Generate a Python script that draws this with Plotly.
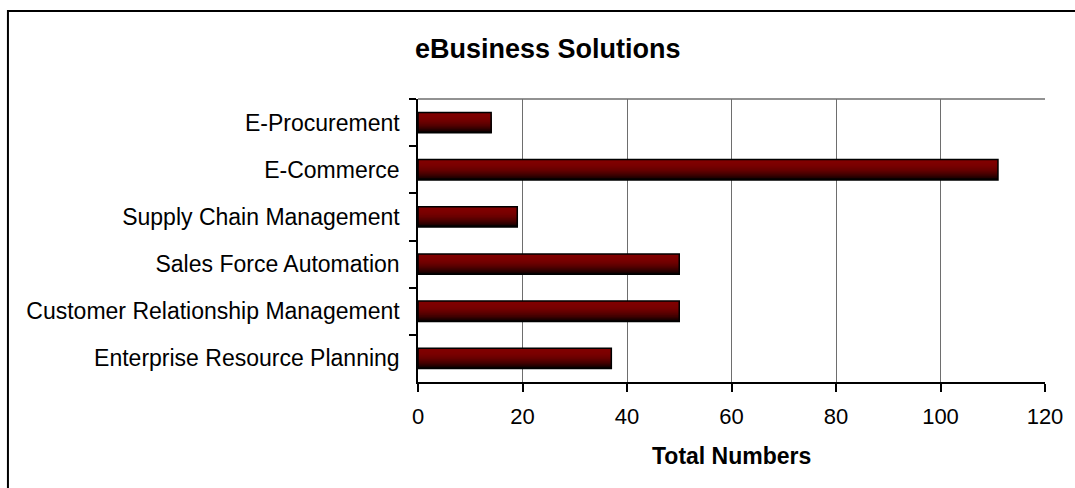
import plotly.graph_objects as go

# Survey totals per eBusiness solution (top to bottom as shown)
categories = [
    "E-Procurement",
    "E-Commerce",
    "Supply Chain Management",
    "Sales Force Automation",
    "Customer Relationship Management",
    "Enterprise Resource Planning",
]
totals = [14, 111, 19, 50, 50, 37]

x_ticks = [0, 20, 40, 60, 80, 100, 120]

FONT = "Arial, Liberation Sans, sans-serif"
BAR_W = 0.43
N_STRIPES = 18

fig = go.Figure()

# Vertical shading: stacked slices from the top of each bar downward,
# each one darker, so the bar fades from deep red to black.
for i in range(N_STRIPES):
    t = i / (N_STRIPES - 1)
    r = int(round(10 + 118 * (1 - t ** 2.2)))
    fig.add_trace(go.Bar(
        y=categories,
        x=totals,
        orientation="h",
        width=BAR_W * (1 - i / N_STRIPES),
        offset=-BAR_W / 2 + i * BAR_W / N_STRIPES,
        marker=dict(color=f"rgb({r},0,0)", line=dict(width=0)),
        hoverinfo="skip",
        showlegend=False,
    ))

# Black outline around every bar
fig.add_trace(go.Bar(
    y=categories,
    x=totals,
    orientation="h",
    width=BAR_W,
    marker=dict(color="rgba(0,0,0,0)", line=dict(color="black", width=1.5)),
    showlegend=False,
))

fig.update_layout(
    width=1075,
    height=488,
    margin=dict(l=418, r=28, t=99, b=106),
    paper_bgcolor="white",
    plot_bgcolor="white",
    barmode="overlay",
    font=dict(family=FONT, color="black"),
    showlegend=False,
)

fig.update_xaxes(
    range=[0, 120],
    tickvals=x_ticks,
    ticktext=[str(v) for v in x_ticks],
    showgrid=True,
    gridcolor="#6e6e6e",
    gridwidth=1,
    zeroline=False,
    showline=True,
    linecolor="black",
    linewidth=1.5,
    ticks="outside",
    ticklen=8,
    tickcolor="black",
    tickwidth=1.5,
    tickfont=dict(size=22, family=FONT, color="black"),
    ticklabelstandoff=6,
)

fig.update_yaxes(
    type="category",
    autorange="reversed",
    showgrid=False,
    zeroline=False,
    showline=True,
    linecolor="black",
    linewidth=1.5,
    ticks="outside",
    tickson="boundaries",
    ticklen=7,
    tickcolor="black",
    tickwidth=1.5,
    tickfont=dict(size=23, family=FONT, color="black"),
    ticklabelstandoff=12,
)

# Grey top edge of the plotting area
fig.add_shape(type="line", xref="paper", yref="paper",
              x0=0, x1=1, y0=1, y1=1,
              line=dict(color="#6e6e6e", width=1.5))

# Chart frame
fig.add_shape(type="rect", xref="paper", yref="paper",
              x0=-0.654, x1=2.0, y0=-2.0, y1=1.311,
              line=dict(color="black", width=2), layer="below")

fig.add_annotation(text="<b>eBusiness Solutions</b>", xref="paper", yref="paper",
                   x=0.207, y=1.175, xanchor="center", yanchor="middle",
                   showarrow=False, font=dict(size=27, family=FONT, color="black"))

fig.add_annotation(text="<b>Total Numbers</b>", xref="paper", yref="paper",
                   x=0.5, y=-0.262, xanchor="center", yanchor="middle",
                   showarrow=False, font=dict(size=23, family=FONT, color="black"))

fig.write_html("out.html")
